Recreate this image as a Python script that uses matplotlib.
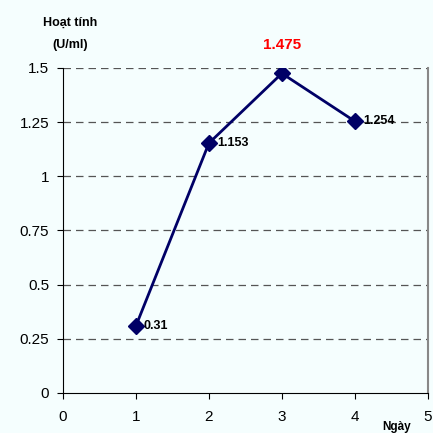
import matplotlib.pyplot as plt

days = [1, 2, 3, 4]
activity = [0.31, 1.153, 1.475, 1.254]
labels = ['0.31', '1.153', '1.475', '1.254']
yticks = [0, 0.25, 0.5, 0.75, 1, 1.25, 1.5]
ytick_labels = ['0', '0.25', '0.5', '0.75', '1', '1.25', '1.5']
xticks = [0, 1, 2, 3, 4, 5]

plt.rcParams['font.family'] = ['Liberation Sans', 'DejaVu Sans']

bg = '#f5fefe'
fig = plt.figure(figsize=(4.33, 4.33), dpi=100, facecolor=bg)
ax = fig.add_axes([0.1455, 0.0924, 0.8425, 0.7506], facecolor=bg)

for y in yticks[1:]:
    ax.axhline(y, color='#555555', lw=0.9, ls=(0, (6, 4)), zorder=1)

ax.plot(days, activity, color='#000066', lw=2, marker='D', ms=8.5, zorder=3)

for x, y, t in zip(days, activity, labels):
    if t == '1.475':
        continue
    ax.text(x + 0.11, y, t, fontsize=9, fontweight='bold', va='center', ha='left', zorder=4)
ax.text(days[2], 1.606, labels[2], color='#ff0000', fontsize=11, fontweight='bold',
        ha='center', va='center', clip_on=False)

ax.set_xlim(0, 5)
ax.set_ylim(0, 1.5)
ax.set_xticks(xticks)
ax.set_yticks(yticks)
ax.set_yticklabels(ytick_labels)
ax.tick_params(axis='both', direction='out', length=4, labelsize=11, pad=6)
ax.tick_params(axis='x', pad=8)

ax.spines['top'].set_visible(False)
ax.spines['right'].set_color('#888888')
ax.spines['right'].set_linewidth(1.5)

fig.text(0.162, 0.947, 'Hoạt tính', fontsize=9, fontweight='bold', ha='center', va='center')
fig.text(0.162, 0.896, '(U/ml)', fontsize=9, fontweight='bold', ha='center', va='center')
fig.text(0.917, 0.014, 'Ngày', fontsize=8.5, fontweight='bold', ha='center', va='center')

fig.savefig('out.png', dpi=100, facecolor=bg)
